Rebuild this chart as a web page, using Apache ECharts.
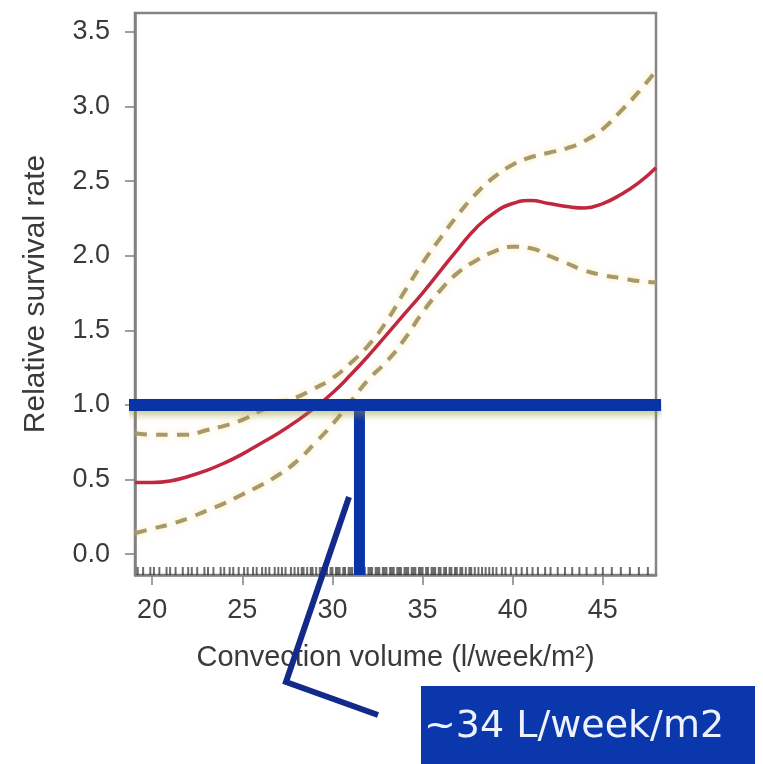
<!DOCTYPE html>
<html>
<head>
<meta charset="utf-8">
<script src="https://cdn.jsdelivr.net/npm/echarts@6/dist/echarts.min.js"></script>
<style>
  html, body { margin: 0; padding: 0; background: #fff; }
  #chart { width: 763px; height: 764px; }
</style>
</head>
<body>
<div id="chart"></div>
<script>
// convection volume grid (l/week/m2)
const xs = [19.05, 20, 21, 22, 23, 24, 25, 26, 27, 28, 29, 30, 31, 32, 33, 34, 35, 36, 37, 38, 39, 40, 41, 42, 43, 44, 45, 46, 47, 47.95];
// relative survival rate, fitted curve
const fit = [0.48, 0.48, 0.49, 0.52, 0.56, 0.61, 0.67, 0.74, 0.81, 0.89, 0.98, 1.08, 1.20, 1.33, 1.47, 1.61, 1.75, 1.90, 2.05, 2.19, 2.29, 2.35, 2.37, 2.35, 2.33, 2.32, 2.35, 2.41, 2.49, 2.59];
// confidence band
const upper = [0.81, 0.80, 0.80, 0.80, 0.83, 0.86, 0.90, 0.96, 1.01, 1.05, 1.11, 1.18, 1.28, 1.40, 1.56, 1.76, 1.95, 2.12, 2.28, 2.42, 2.53, 2.61, 2.66, 2.69, 2.72, 2.77, 2.85, 2.97, 3.10, 3.24];
const lower = [0.14, 0.17, 0.20, 0.24, 0.29, 0.34, 0.40, 0.46, 0.53, 0.62, 0.74, 0.87, 1.02, 1.17, 1.29, 1.44, 1.62, 1.77, 1.89, 1.97, 2.03, 2.06, 2.05, 2.00, 1.95, 1.90, 1.87, 1.85, 1.83, 1.82];
// rug of observed convection volumes
const rug = [19.2, 19.5, 19.9, 20.1, 20.4, 20.8, 21.0, 21.3, 21.7, 22.0, 22.2, 22.5, 22.9, 23.1, 23.4, 23.8, 24.0, 24.3, 24.5, 24.8, 25.1, 25.3, 25.6, 25.8, 26.1, 26.3, 26.5, 26.8, 27.0, 27.2, 27.4, 27.7, 27.9,
  28.1, 28.3, 28.4, 28.6, 28.8, 28.9, 29.1, 29.3, 29.4, 29.6, 29.7, 29.9, 30.0, 30.2, 30.3, 30.4, 30.6, 30.7, 30.9, 31.0, 31.1, 31.3, 31.4, 31.6, 31.7, 31.8, 32.0, 32.1, 32.2, 32.4, 32.5, 32.6, 32.8, 32.9, 33.0, 33.2, 33.3, 33.4, 33.6, 33.7, 33.8, 34.0, 34.1, 34.2, 34.4, 34.5, 34.6, 34.8, 34.9, 35.0, 35.2, 35.3, 35.5, 35.6, 35.7, 35.9, 36.0, 36.2, 36.3, 36.5, 36.6, 36.8, 36.9, 37.1, 37.2, 37.4, 37.6, 37.7, 37.9, 38.1, 38.3, 38.5, 38.7, 38.9, 39.1, 39.4, 39.6, 39.9,
  40.2, 40.5, 40.8, 41.1, 41.4, 41.8, 42.1, 42.5, 42.9, 43.3, 43.7, 44.1, 44.6, 45.0, 45.5, 46.0, 46.5, 47.0, 47.5];
const xTicks = [20, 25, 30, 35, 40, 45];
const yTicks = [0, 0.5, 1, 1.5, 2, 2.5, 3, 3.5];
// annotation: reference line at 1.0 and the cut-off volume
const refRate = 1.0;
const cutX = 31.5;
const calloutText = '~34 L/week/m2';

const X_MIN = 19.05, X_MAX = 47.95, Y_MIN = -0.14, Y_MAX = 3.627;

function pairs(a, b) { return a.map((v, i) => [v, b[i]]); }

const chart = echarts.init(document.getElementById('chart'));
const axisFont = 'Liberation Sans, Arial, Helvetica, sans-serif';

const dashStyle = {
  color: '#a8996a',
  width: 4,
  type: [12, 9],
  shadowColor: 'rgba(245, 205, 90, 0.55)',
  shadowBlur: 6
};

chart.setOption({
  animation: false,
  backgroundColor: '#fff',
  grid: {
    left: 135, top: 13, right: 107, bottom: 189,
    show: true,
    borderColor: '#858585',
    borderWidth: 2.5,
    backgroundColor: 'transparent'
  },
  xAxis: {
    type: 'value',
    min: X_MIN, max: X_MAX,
    name: 'Convection volume (l/week/m²)',
    nameLocation: 'middle',
    nameGap: 68,
    nameTextStyle: { fontFamily: axisFont, fontSize: 29, color: '#3a3a3a' },
    axisLine: { show: true, onZero: false, lineStyle: { color: '#808080', width: 2.5 } },
    axisTick: { show: true, length: 10, customValues: xTicks, lineStyle: { color: '#808080', width: 1.5 } },
    axisLabel: {
      customValues: xTicks, margin: 22,
      fontFamily: axisFont, fontSize: 27, color: '#3a3a3a'
    },
    splitLine: { show: false }
  },
  yAxis: {
    type: 'value',
    min: Y_MIN, max: Y_MAX,
    name: 'Relative survival rate',
    nameLocation: 'middle',
    nameGap: 84,
    nameTextStyle: { fontFamily: axisFont, fontSize: 30, color: '#3a3a3a' },
    axisLine: { show: true, onZero: false, lineStyle: { color: '#808080', width: 2.5 } },
    axisTick: { show: true, length: 10, customValues: yTicks, lineStyle: { color: '#808080', width: 1.5 } },
    axisLabel: {
      customValues: yTicks, margin: 25,
      fontFamily: axisFont, fontSize: 27, color: '#3a3a3a',
      formatter: v => v.toFixed(1)
    },
    splitLine: { show: false }
  },
  series: [
    {
      name: 'rug',
      type: 'scatter',
      data: rug.map(v => [v, Y_MIN]),
      symbol: 'rect',
      symbolSize: [2, 8],
      symbolOffset: [0, -4],
      itemStyle: { color: 'rgba(25,25,25,0.8)' },
      silent: true,
      z: 2
    },
    {
      name: 'upper',
      type: 'line',
      data: pairs(xs, upper),
      smooth: 0.5,
      showSymbol: false,
      lineStyle: dashStyle,
      z: 3
    },
    {
      name: 'lower',
      type: 'line',
      data: pairs(xs, lower),
      smooth: 0.5,
      showSymbol: false,
      lineStyle: dashStyle,
      z: 3
    },
    {
      name: 'fit',
      type: 'line',
      data: pairs(xs, fit),
      smooth: 0.5,
      showSymbol: false,
      lineStyle: { color: '#c1273d', width: 3.5 },
      z: 4
    },
    {
      name: 'ref',
      type: 'line',
      data: [[18.6, refRate], [48.23, refRate]],
      clip: false,
      showSymbol: false,
      lineStyle: {
        color: '#0a33a6', width: 12, cap: 'butt',
        shadowColor: 'rgba(150,150,60,0.45)', shadowBlur: 6, shadowOffsetY: 5
      },
      z: 6
    },
    {
      name: 'cut',
      type: 'line',
      data: [[cutX, refRate], [cutX, Y_MIN]],
      showSymbol: false,
      lineStyle: { color: '#0a33a6', width: 11, cap: 'butt' },
      z: 5
    }
  ],
  graphic: [
    {
      type: 'polyline',
      shape: { points: [[349, 497], [286, 682], [378, 715]] },
      style: { stroke: '#142a8a', lineWidth: 6, fill: null, lineJoin: 'miter' },
      z: 10
    },
    {
      type: 'rect',
      shape: { x: 421, y: 686, width: 334, height: 78 },
      style: { fill: '#0a37ab' },
      z: 10
    },
    {
      type: 'text',
      x: 424, y: 727,
      style: {
        text: calloutText,
        fill: '#eef2ff',
        font: '38px "DejaVu Sans", sans-serif',
        verticalAlign: 'middle'
      },
      z: 11
    }
  ]
});
</script>
</body>
</html>
